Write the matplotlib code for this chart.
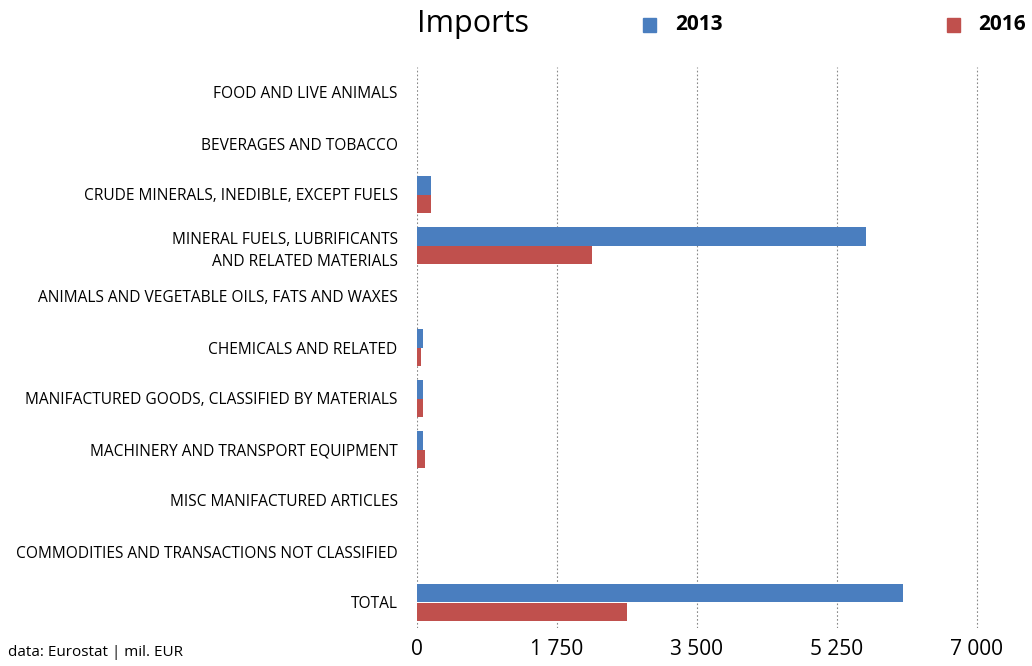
import numpy as np
import matplotlib.pyplot as plt

plt.rcParams['font.family'] = ['Open Sans', 'DejaVu Sans']

categories = [
    'FOOD AND LIVE ANIMALS',
    'BEVERAGES AND TOBACCO',
    'CRUDE MINERALS, INEDIBLE, EXCEPT FUELS',
    'MINERAL FUELS, LUBRIFICANTS\nAND RELATED MATERIALS',
    'ANIMALS AND VEGETABLE OILS, FATS AND WAXES',
    'CHEMICALS AND RELATED',
    'MANIFACTURED GOODS, CLASSIFIED BY MATERIALS',
    'MACHINERY AND TRANSPORT EQUIPMENT',
    'MISC MANIFACTURED ARTICLES',
    'COMMODITIES AND TRANSACTIONS NOT CLASSIFIED',
    'TOTAL',
]
imports_2013 = [0, 0, 175, 5612, 0, 75, 75, 75, 0, 0, 6072]
imports_2016 = [0, 0, 175, 2190, 0, 50, 75, 100, 0, 0, 2630]
xticks = [0, 1750, 3500, 5250, 7000]
xtick_labels = ['0', '1 750', '3 500', '5 250', '7 000']

blue = '#4a7ebf'
red = '#c0504d'

fig = plt.figure(figsize=(10.32, 6.66), dpi=100)
ax = fig.add_axes([417 / 1032, 1 - 628 / 666, 615 / 1032, 561 / 666])

y = np.arange(len(categories))
h = 0.37
ax.barh(y - h / 2, imports_2013, height=h, color=blue, linewidth=0, zorder=2)
ax.barh(y + h / 2, imports_2016, height=h, color=red, linewidth=0, zorder=2)

ax.set_xlim(0, 7000 * 615 / 560)
ax.set_ylim(len(categories) - 0.5, -0.5)
ax.set_yticks(y)
ax.set_yticklabels(categories, fontsize=11.2, linespacing=1.55)
ax.set_xticks(xticks)
ax.set_xticklabels(xtick_labels, fontsize=15)
ax.tick_params(axis='both', length=0)
ax.tick_params(axis='y', pad=14)
ax.tick_params(axis='x', pad=8)
for s in ax.spines.values():
    s.set_visible(False)
ax.grid(axis='x', linestyle=(0, (1.5, 2)), color='#888888', linewidth=0.8, zorder=0)

fig.text(417 / 1032, 1 - 24 / 666, 'Imports', fontsize=22, va='center', ha='left')
fig.patches.append(plt.Rectangle((643 / 1032, 1 - 32 / 666), 13 / 1032, 14 / 666,
                                 transform=fig.transFigure, color=blue))
fig.text(675 / 1032, 1 - 24 / 666, '2013', fontsize=15, fontweight='bold', va='center')
fig.patches.append(plt.Rectangle((947 / 1032, 1 - 32 / 666), 13 / 1032, 14 / 666,
                                 transform=fig.transFigure, color=red))
fig.text(978 / 1032, 1 - 24 / 666, '2016', fontsize=15, fontweight='bold', va='center')

fig.text(8 / 1032, 1 - 652 / 666, 'data: Eurostat | mil. EUR', fontsize=11, va='center')

fig.savefig('out.png', dpi=100)
